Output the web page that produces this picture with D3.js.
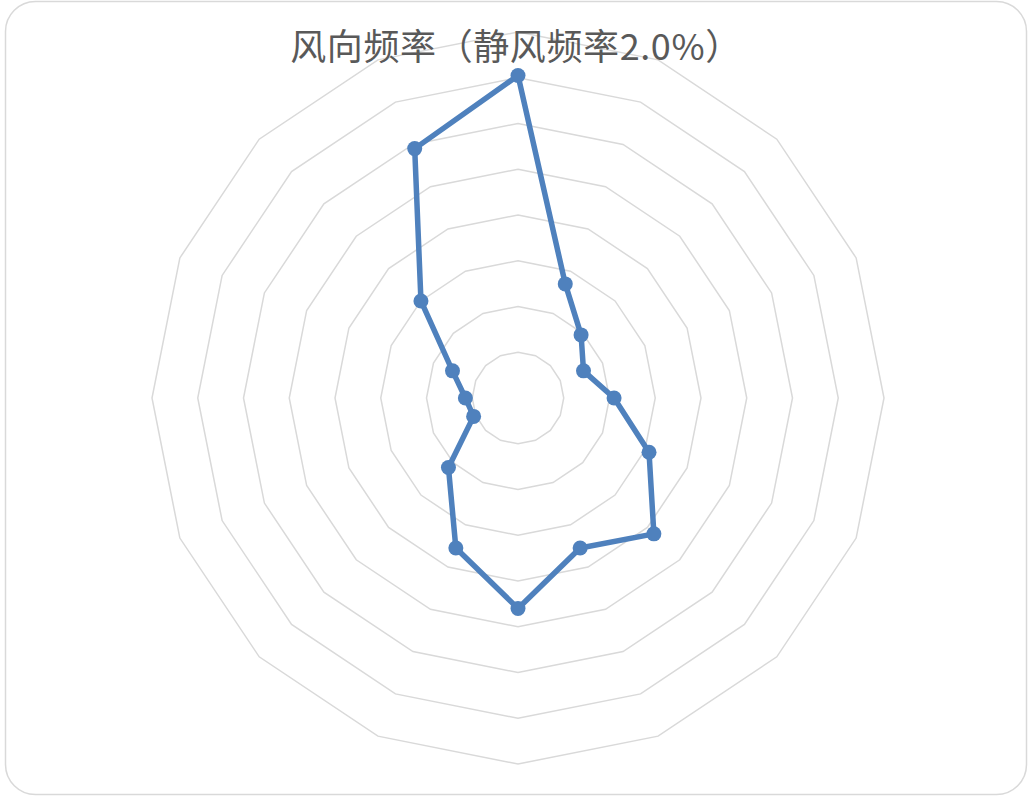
<style>
body { margin: 0; background: #fff; }
svg { display: block; }
.grid { fill: none; stroke: #d9d9d9; stroke-width: 1.5px; }
.series { fill: none; stroke: #4f81bd; stroke-width: 5.5px; stroke-linejoin: round; }
.dot { fill: #4f81bd; }
.title { font: 36px "Noto Sans CJK SC", sans-serif; fill: #595959; letter-spacing: 0.6px; }
</style>
<svg width="1028" height="796"></svg>
<script src="https://cdnjs.cloudflare.com/ajax/libs/d3/7.8.5/d3.min.js"></script>
<script>

// wind directions, clockwise from north
var directions = ["N", "NNE", "NE", "ENE", "E", "ESE", "SE", "SSE",
                  "S", "SSW", "SW", "WSW", "W", "WNW", "NW", "NNW"];
// frequency, percent
var frequency = [14.1, 5.4, 3.9, 3.1, 4.2, 6.2, 8.4, 7.1,
                 9.2, 7.1, 4.3, 2.1, 2.3, 3.1, 6.0, 11.8];
var gridTicks = [2, 4, 6, 8, 10, 12, 14, 16];
var titleText = "风向频率（静风频率2.0%）";

var width = 1028, height = 796;
var cx = 518, cy = 398, radius = 366;

var svg = d3.select("svg");

// chart border
svg.append("rect")
    .attr("x", 5.5).attr("y", 1.5)
    .attr("width", 1021).attr("height", 793)
    .attr("rx", 30).attr("ry", 30)
    .attr("fill", "#fff")
    .attr("stroke", "#d9d9d9")
    .attr("stroke-width", 1.5);

var r = d3.scaleLinear().domain([0, 16]).range([0, radius]);
var angle = d3.scalePoint().domain(directions.concat("_")).range([0, 2 * Math.PI]);

var g = svg.append("g").attr("transform", "translate(" + cx + "," + cy + ")");

var ring = d3.lineRadial()
    .angle(function(d) { return angle(d); })
    .curve(d3.curveLinearClosed);

g.selectAll(".grid")
  .data(gridTicks)
  .enter().append("path")
    .attr("class", "grid")
    .attr("d", function(t) { return ring.radius(r(t))(directions); });

var points = directions.map(function(d, i) { return { dir: d, value: frequency[i] }; });

var line = d3.lineRadial()
    .angle(function(d) { return angle(d.dir); })
    .radius(function(d) { return r(d.value); })
    .curve(d3.curveLinearClosed);

g.append("path")
    .datum(points)
    .attr("class", "series")
    .attr("d", line);

g.selectAll(".dot")
  .data(points)
  .enter().append("circle")
    .attr("class", "dot")
    .attr("r", 7.5)
    .attr("cx", function(d) { return r(d.value) * Math.sin(angle(d.dir)); })
    .attr("cy", function(d) { return -r(d.value) * Math.cos(angle(d.dir)); });

svg.append("text")
    .attr("class", "title")
    .attr("x", 516)
    .attr("y", 60)
    .attr("text-anchor", "middle")
    .text(titleText);

</script>
